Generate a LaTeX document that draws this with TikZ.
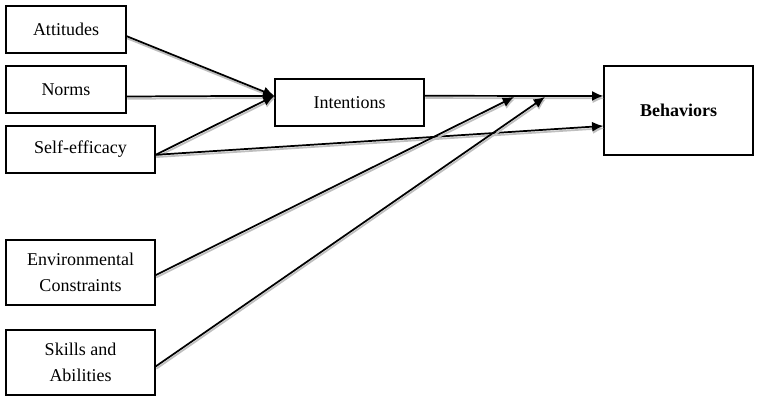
\documentclass[tikz,border=0pt]{standalone}
\usepackage{fontspec}
\setmainfont{Liberation Serif}
\usetikzlibrary{arrows.meta}

\begin{document}
\begin{tikzpicture}[x=0.75pt, y=-0.75pt,
  factor/.style={draw, line width=0.9pt, minimum width=111.75pt, minimum height=35.25pt, align=center, inner sep=2pt, font=\fontsize{13.5}{19.5}\selectfont},
  arr/.style={-{Latex[length=8.5pt, width=7.5pt]}, line width=1.3pt, black,
    preaction={draw, gray!50, line width=1.3pt, transform canvas={shift={(0.5pt,-1.7pt)}}}},
]
\useasboundingbox (0,0) rectangle (760,402);

\node[factor, minimum width=90pt]     (att)    at (66, 29.5)    {Attitudes};
\node[factor, minimum width=90pt]     (norms)  at (66, 89.5)    {Norms};
\node[factor]                         (self)   at (80.5, 149.5) {Self-efficacy};
\node[factor, minimum height=48.75pt] (env)    at (80.5, 272.5) {Environmental\\Constraints};
\node[factor, minimum height=48.75pt] (skills) at (80.5, 362.5) {Skills and\\Abilities};
\node[factor]                         (int)    at (349.5, 102.5) {Intentions};
\node[factor, minimum height=66.75pt] (beh)    at (678.5, 110.5) {\textbf{Behaviors}};

\coordinate (envtip)    at (514, 97);
\coordinate (skillstip) at (545, 97);

\draw[arr] ([yshift=-5pt]att.east) -- ([yshift=5pt]int.west);
\draw[arr] ([yshift=-5.25pt]norms.east) -- ([yshift=5pt]int.west);
\draw[arr] ([yshift=-4pt]self.east) -- ([yshift=5pt]int.west);
\draw[arr] ([yshift=5pt]int.east) -- ([yshift=10.9pt]beh.west);
\draw[arr] ([yshift=-4pt]self.east) -- ([yshift=-11.6pt]beh.west);
\draw[arr] ([yshift=-2pt]env.east) -- (envtip);
\draw[arr] ([yshift=-3pt]skills.east) -- (skillstip);

\end{tikzpicture}
\end{document}
